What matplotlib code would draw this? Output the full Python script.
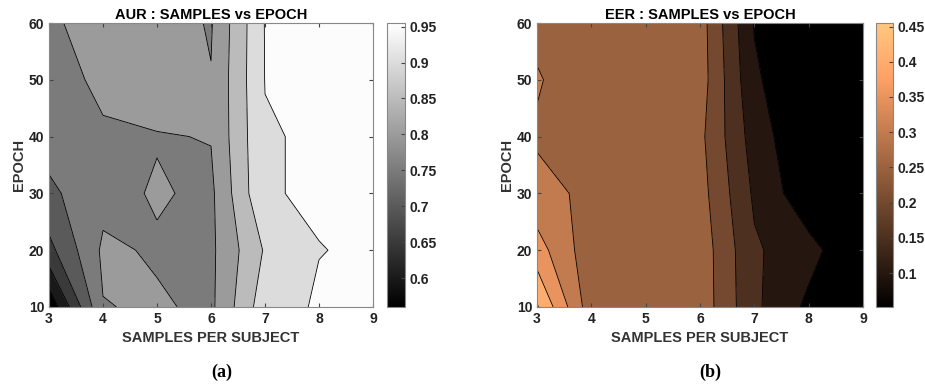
import numpy as np
import matplotlib
matplotlib.use("Agg")
import matplotlib.pyplot as plt
from matplotlib.colors import Normalize
from matplotlib.cm import ScalarMappable

plt.rcParams['font.family'] = ['Liberation Sans', 'DejaVu Sans']
plt.rcParams['font.weight'] = 'bold'

# grid: samples per subject (columns) x epoch (rows)
samples = [3, 4, 5, 6, 7, 8, 9]
epochs = [10, 20, 30, 40, 50, 60]

aur = [
    [0.560, 0.798, 0.806, 0.790, 0.930, 0.955, 0.955],
    [0.685, 0.8086, 0.7944, 0.790, 0.905, 0.949, 0.955],
    [0.740, 0.784, 0.805, 0.790, 0.947, 0.955, 0.955],
    [0.770, 0.791, 0.797, 0.802, 0.947, 0.955, 0.955],
    [0.770, 0.815, 0.830, 0.802, 0.951, 0.955, 0.955],
    [0.785, 0.840, 0.824, 0.796, 0.952, 0.955, 0.955],
]
eer = [
    [0.455, 0.270, 0.275, 0.281, 0.160, 0.089, 0.052],
    [0.372, 0.268, 0.275, 0.280, 0.157, 0.117, 0.052],
    [0.316, 0.289, 0.280, 0.270, 0.142, 0.064, 0.052],
    [0.294, 0.275, 0.278, 0.262, 0.127, 0.052, 0.052],
    [0.3045, 0.267, 0.275, 0.275, 0.108, 0.052, 0.052],
    [0.2865, 0.272, 0.275, 0.273, 0.097, 0.052, 0.052],
]
aur_levels = [0.6, 0.65, 0.7, 0.75, 0.8, 0.85, 0.9, 0.95]
eer_levels = [0.1, 0.15, 0.2, 0.25, 0.3, 0.35, 0.4, 0.45]

fig = plt.figure(figsize=(9.25, 3.9), dpi=100)

def panel(ax_rect, cb_rect, data, levels, cmap_name, title, tag, tag_x):
    X, Y = np.meshgrid(samples, epochs)
    Z = np.array(data)
    zmin, zmax = Z.min(), Z.max()
    norm = Normalize(zmin, zmax)
    cmap = plt.get_cmap(cmap_name)
    bounds = [zmin] + levels + [zmax]
    # matlab style: each band takes the colour of its lower level
    cols = [cmap(norm(b)) for b in bounds[:-1]]
    ax = fig.add_axes(ax_rect)
    ax.contourf(X, Y, Z, levels=bounds, colors=cols)
    ax.contour(X, Y, Z, levels=levels, colors='k', linewidths=0.6)
    ax.set_xlim(3, 9)
    ax.set_ylim(10, 60)
    ax.set_xticks(samples)
    ax.set_yticks(epochs)
    ax.tick_params(direction='in', top=True, right=True, labelsize=10,
                   length=3, color='#444444', labelcolor='#222222')
    for s in ax.spines.values():
        s.set_color('#888888')
    ax.set_title(title, fontsize=10.5, fontweight='bold', pad=3)
    ax.set_xlabel('SAMPLES PER SUBJECT', fontsize=10.5, fontweight='bold',
                  color='#333333', labelpad=4)
    ax.set_ylabel('EPOCH', fontsize=10.5, fontweight='bold',
                  color='#333333', labelpad=2)
    cax = fig.add_axes(cb_rect)
    sm = ScalarMappable(norm=norm, cmap=cmap)
    cb = fig.colorbar(sm, cax=cax, ticks=levels)
    cb.ax.set_yticklabels([f'{v:g}' for v in levels])
    cb.ax.tick_params(direction='in', labelsize=10, length=3,
                      color='#444444', labelcolor='#222222')
    cb.outline.set_edgecolor('#888888')
    fig.text(tag_x, 0.045, tag, ha='center', va='center', fontsize=13,
             fontweight='bold', family='Liberation Serif')

panel([49 / 925, 83 / 390, 324 / 925, 284 / 390],
      [387 / 925, 83 / 390, 18 / 925, 284 / 390],
      aur, aur_levels, 'gray', 'AUR : SAMPLES vs EPOCH', '(a)', 222 / 925)
panel([537 / 925, 83 / 390, 326 / 925, 284 / 390],
      [876 / 925, 83 / 390, 17 / 925, 284 / 390],
      eer, eer_levels, 'copper', 'EER : SAMPLES vs EPOCH', '(b)', 710 / 925)

fig.savefig('out.png', dpi=100, facecolor='white')
